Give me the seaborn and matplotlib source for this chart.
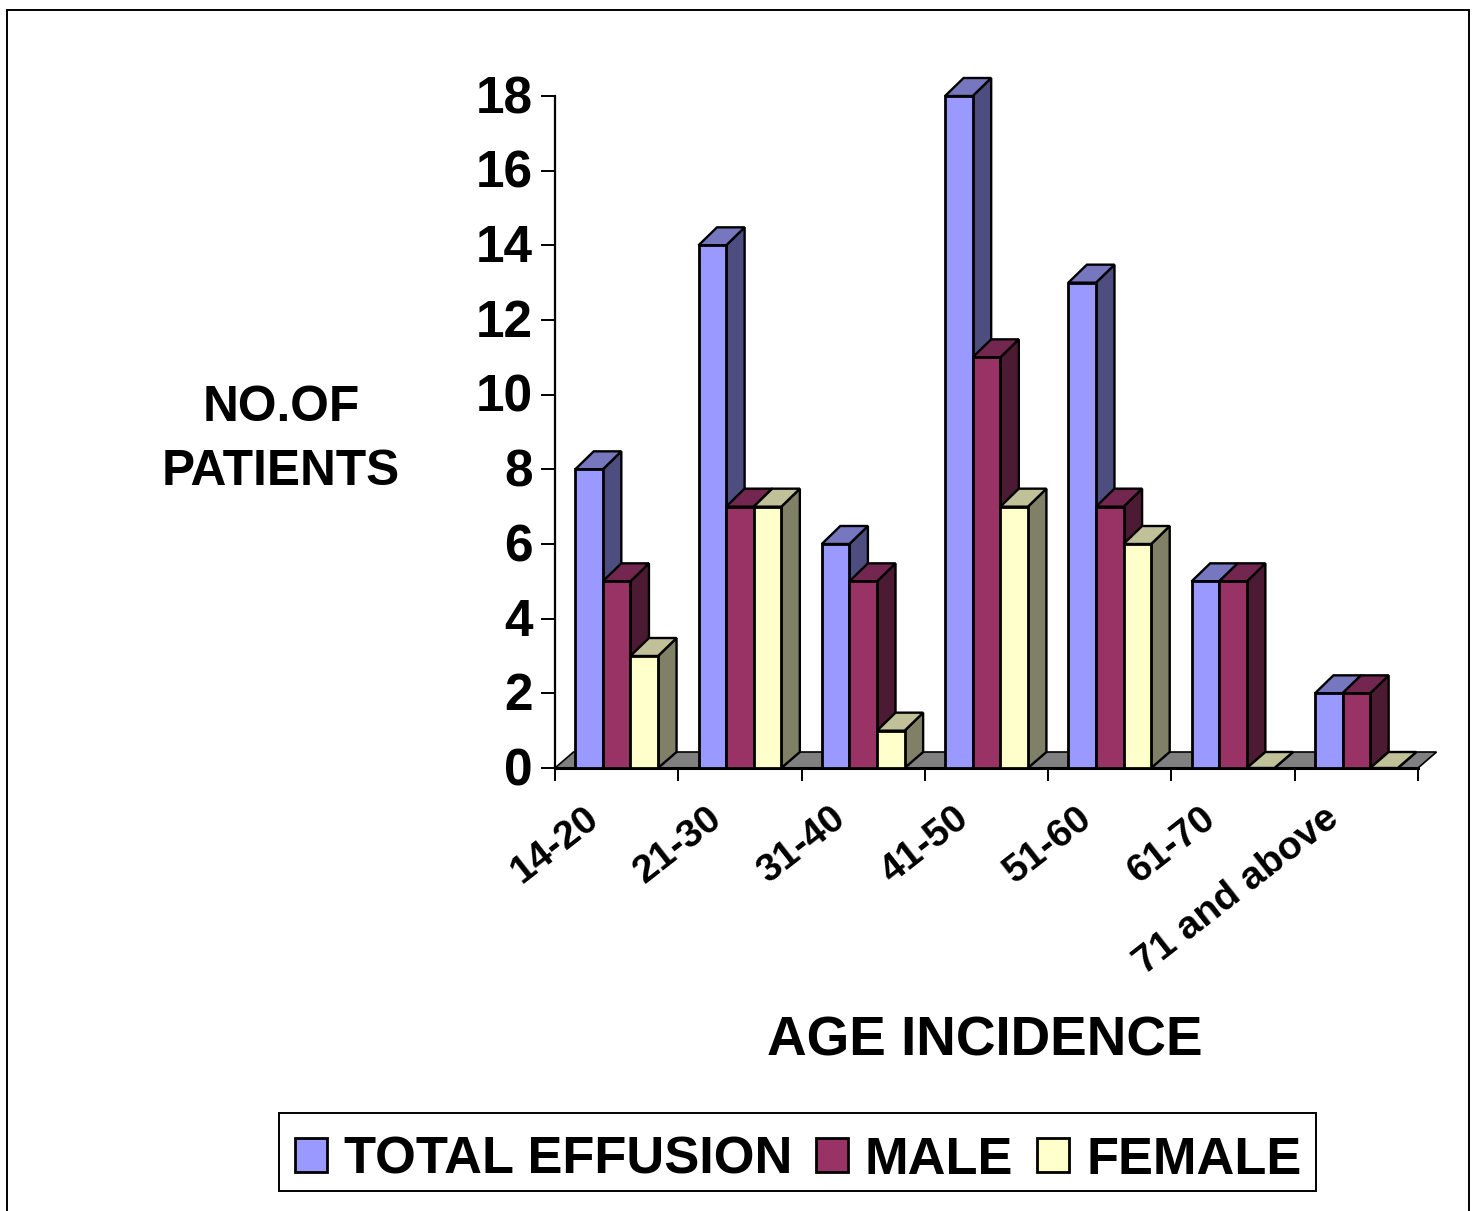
import numpy as np
import pandas as pd
import matplotlib
matplotlib.use("Agg")
import matplotlib.pyplot as plt
from matplotlib.patches import Polygon, Rectangle
from matplotlib.transforms import ScaledTranslation
import seaborn as sns

age_groups = ["14-20", "21-30", "31-40", "41-50", "51-60", "61-70", "71 and above"]
total_effusion = [8, 14, 6, 18, 13, 5, 2]
male = [5, 7, 5, 11, 7, 5, 2]
female = [3, 7, 1, 7, 6, 0, 0]
series_names = ["TOTAL EFFUSION", "MALE", "FEMALE"]
front_colors = ["#9999FF", "#993366", "#FFFFCC"]
top_colors = ["#7777C0", "#732650", "#C0C099"]
side_colors = ["#4D4D80", "#4D1A33", "#808066"]
y_ticks = list(range(0, 20, 2))

sns.set_style("white")
plt.rcParams["font.family"] = ["Liberation Sans", "DejaVu Sans"]
plt.rcParams["font.weight"] = "bold"
plt.rcParams["text.color"] = "black"
plt.rcParams["xtick.color"] = "black"
plt.rcParams["ytick.color"] = "black"
plt.rcParams["xtick.labelcolor"] = "black"
plt.rcParams["ytick.labelcolor"] = "black"

W, H = 1475, 1211
fig = plt.figure(figsize=(W / 100, H / 100), dpi=100, facecolor="white")
ax = fig.add_axes([555 / W, 1 - 768 / H, 863 / W, 672 / H])

df = pd.DataFrame({
    "age": age_groups * 3,
    "count": total_effusion + male + female,
    "series": sum([[s] * len(age_groups) for s in series_names], []),
})
sns.barplot(data=df, x="age", y="count", hue="series", hue_order=series_names,
            palette=front_colors, width=0.672, gap=0, saturation=1,
            edgecolor="black", linewidth=2.0, ax=ax, legend=True, errorbar=None)

handles, labels = ax.get_legend_handles_labels()
ax.get_legend().remove()

ax.set_xlim(-0.5, len(age_groups) - 0.5)
ax.set_ylim(0, 18)

# depth of the pseudo-3D extrusion, in data units
dx = 18.5 / (863 / 7)
dy_top = 18 / (672 / 18)
dy_floor = 16 / (672 / 18)

EDGE = dict(edgecolor="black", linewidth=1.7, clip_on=False)

# floor
x0, x1 = ax.get_xlim()
ax.add_patch(Polygon([(x0, 0), (x0 + dx, dy_floor), (x1 + dx, dy_floor), (x1, 0)],
                     closed=True, facecolor="#808080", zorder=1.5,
                     edgecolor="black", linewidth=1.2, clip_on=False))

# extruded faces, built from the bars seaborn drew
for j, container in enumerate(ax.containers):
    for i, bar in enumerate(container.patches):
        x, w, h = bar.get_x(), bar.get_width(), bar.get_height()
        z = 3 + (i * 3 + j) * 0.1
        dy = dy_top if h > 0 else dy_floor
        bar.set_zorder(z)
        bar.set_clip_on(False)
        ax.add_patch(Polygon([(x + w, 0), (x + w + dx, dy_floor), (x + w + dx, h + dy), (x + w, h)],
                             closed=True, facecolor=side_colors[j], zorder=z - 0.02, **EDGE))
        ax.add_patch(Polygon([(x, h), (x + dx, h + dy), (x + w + dx, h + dy), (x + w, h)],
                             closed=True, facecolor=top_colors[j], zorder=z - 0.01, **EDGE))

sns.despine(ax=ax)
ax.spines["left"].set_linewidth(1.6)
ax.spines["bottom"].set_linewidth(2.2)
for s in ("left", "bottom"):
    ax.spines[s].set_color("black")
    ax.spines[s].set_zorder(2)

ax.set_yticks(y_ticks)
ax.tick_params(axis="y", left=True, length=10, width=1.4, labelsize=37, pad=6, color="black")
for lab in ax.get_yticklabels():
    lab.set_color("black")
    lab.set_transform(lab.get_transform() + ScaledTranslation(0, 2 / 100, fig.dpi_scale_trans))

ax.set_xticks(np.arange(len(age_groups)))
ax.set_xticklabels(age_groups, rotation=38, ha="right", rotation_mode="anchor",
                   fontsize=28.3, color="black")
ax.tick_params(axis="x", which="major", bottom=False, pad=19.5)
for lab in ax.get_xticklabels():
    lab.set_transform(lab.get_transform() + ScaledTranslation(-33 / 100, 0, fig.dpi_scale_trans))
ax.set_xticks(np.arange(len(age_groups) + 1) - 0.5, minor=True)
ax.tick_params(axis="x", which="minor", bottom=True, length=9, width=1.4, color="black")

ax.set_xlabel("AGE INCIDENCE", fontsize=39.5, fontweight="bold", color="black")
ax.xaxis.set_label_coords(985 / W, 1 - 1041 / H, transform=fig.transFigure)
ax.xaxis.label.set_verticalalignment("center")
ax.set_ylabel("NO.OF\nPATIENTS", fontsize=35.7, fontweight="bold", rotation=0,
              color="black", ha="center", va="center", linespacing=1.5)
ax.yaxis.set_label_coords(281 / W, 1 - 440 / H, transform=fig.transFigure)

leg = fig.legend(handles, labels, loc="center", ncol=3,
                 bbox_to_anchor=(798 / W, 1 - 1160 / H),
                 prop={"family": "Liberation Sans", "weight": "bold", "size": 37.7},
                 labelcolor="black", frameon=False,
                 handlelength=0.62, handleheight=0.62, handletextpad=0.32,
                 columnspacing=0.45, borderpad=0.3, borderaxespad=0)

# legend box and the outer frame of the page
fig.add_artist(Rectangle((279 / W, 1 - 1191 / H), (1316 - 279) / W, (1191 - 1113) / H,
                         transform=fig.transFigure, fill=False,
                         edgecolor="black", linewidth=1.4))
fig.add_artist(Rectangle((7 / W, -0.05), (1469 - 7) / W, 1.05 - 10 / H,
                         transform=fig.transFigure, fill=False,
                         edgecolor="black", linewidth=1.4))

fig.savefig("out.png", dpi=100, facecolor="white")
